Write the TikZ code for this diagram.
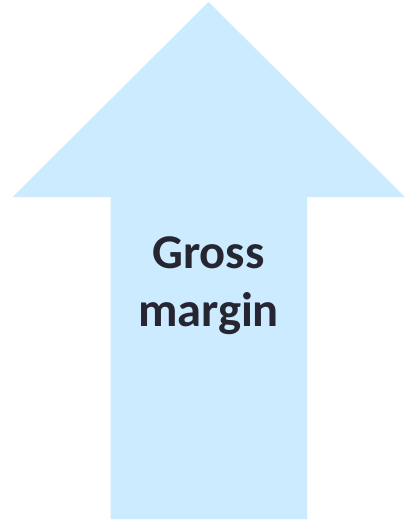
\documentclass[tikz,border=0pt]{standalone}
\usepackage{fontspec}
\setmainfont{Carlito}
\definecolor{arrowfill}{HTML}{CCEBFF}
\definecolor{labeltext}{HTML}{262633}
\begin{document}
\begin{tikzpicture}[x=1pt,y=-1pt,
  arrowshape/.style={fill=arrowfill,draw=none},
  labelstyle/.style={text=labeltext,font=\fontsize{48.5}{58}\selectfont\bfseries,align=center}]
\useasboundingbox (0,0) rectangle (405,520);
\path[arrowshape] (208.5,2) -- (405,197) -- (307,197) -- (307,519) -- (110.5,519) -- (110.5,197) -- (12.5,197) -- cycle;
\node[labelstyle,anchor=base] (gross) at (208.5,268) {Gross};
\node[labelstyle,anchor=base] (margin) at (208.5,326) {margin};
\end{tikzpicture}
\end{document}
